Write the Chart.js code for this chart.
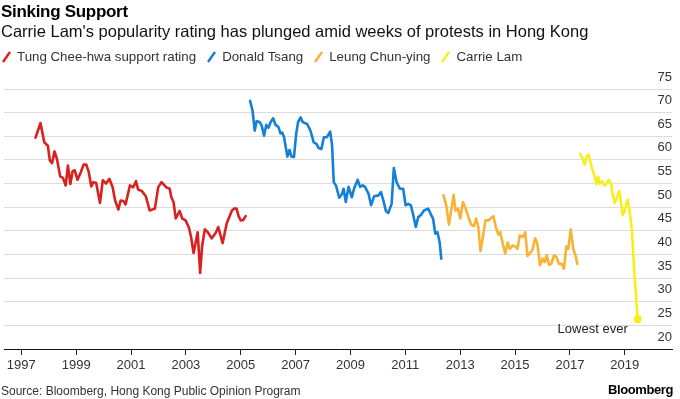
<!DOCTYPE html>
<html>
<head>
<meta charset="utf-8">
<script src="https://cdn.jsdelivr.net/npm/chart.js@4"></script>
<style>
  html, body { margin: 0; padding: 0; background: #fff; }
  body { width: 680px; height: 399px; position: relative; overflow: hidden; font-family: "Liberation Sans", Arial, sans-serif; }
  #wrap { position: absolute; left: 0; top: 0; width: 680px; height: 399px; }
  .t { position: absolute; white-space: nowrap; }
  #title { left: 1px; top: 2px; font-size: 17px; font-weight: bold; line-height: 20px; color: #000; letter-spacing: -0.3px; }
  #subtitle { left: 1px; top: 21px; font-size: 16.5px; line-height: 20px; color: #111; }
  #legend { left: 2px; top: 49px; font-size: 13.3px; line-height: 16px; color: #333; display: flex; align-items: center; }
  #legend .item { display: flex; align-items: center; margin-right: 11px; }
  #legend svg { margin-right: 6px; }
  #source { left: 1px; top: 384px; font-size: 12px; line-height: 14px; color: #333; }
  #brand { right: 7px; top: 383px; font-size: 13px; line-height: 14px; font-weight: bold; color: #000; letter-spacing: -0.4px; }
</style>
</head>
<body>
<div id="wrap"><canvas id="c" width="680" height="399"></canvas></div>
<div class="t" id="title">Sinking Support</div>
<div class="t" id="subtitle">Carrie Lam's popularity rating has plunged amid weeks of protests in Hong Kong</div>
<div class="t" id="legend"></div>
<div class="t" id="source">Source: Bloomberg, Hong Kong Public Opinion Program</div>
<div class="t" id="brand">Bloomberg</div>
<script>
// ---- data ----
const seriesNames = ["Tung Chee-hwa support rating", "Donald Tsang", "Leung Chun-ying", "Carrie Lam"];
const seriesColors = ["#d9221f", "#1581d6", "#f8b235", "#f7ef1c"];

const tungYears = [1997.52,1997.70,1997.84,1997.97,1998.04,1998.12,1998.21,1998.30,1998.42,1998.52,1998.62,1998.70,1998.79,1998.87,1998.95,1999.05,1999.17,1999.27,1999.37,1999.46,1999.55,1999.63,1999.73,1999.87,1999.97,2000.09,2000.21,2000.33,2000.42,2000.54,2000.62,2000.72,2000.80,2000.96,2001.08,2001.18,2001.26,2001.38,2001.54,2001.68,2001.87,2001.99,2002.11,2002.29,2002.41,2002.47,2002.55,2002.63,2002.77,2002.87,2002.99,2003.11,2003.19,2003.28,2003.43,2003.52,2003.59,2003.69,2003.80,2003.94,2004.08,2004.18,2004.34,2004.49,2004.68,2004.76,2004.85,2004.92,2005.00,2005.09,2005.18];
const tungValues = [64.7,67.8,63.7,63.0,59.9,59.3,61.8,60.2,56.5,56.2,54.6,58.8,54.9,57.6,57.8,55.8,57.4,59.0,59.0,57.4,54.4,55.3,55.1,50.9,55.7,55.0,56.0,54.2,51.4,49.5,51.4,51.3,50.6,54.6,54.2,55.5,53.7,53.5,52.3,49.3,49.7,54.2,55.3,54.2,53.9,52.1,51.1,47.6,49.2,47.6,47.2,45.7,43.7,40.3,44.7,36.1,41.7,45.3,44.7,43.4,44.5,45.8,42.4,46.6,49.3,49.7,49.7,48.1,47.2,47.3,48.1];

const tsangYears = [2005.34,2005.43,2005.51,2005.58,2005.69,2005.76,2005.85,2005.93,2006.01,2006.09,2006.18,2006.27,2006.37,2006.45,2006.51,2006.58,2006.70,2006.78,2006.85,2006.94,2007.02,2007.09,2007.18,2007.26,2007.42,2007.54,2007.66,2007.76,2007.84,2007.94,2008.03,2008.14,2008.26,2008.33,2008.39,2008.47,2008.59,2008.69,2008.75,2008.83,2008.93,2009.05,2009.13,2009.26,2009.35,2009.45,2009.53,2009.66,2009.75,2009.86,2010.02,2010.11,2010.20,2010.29,2010.38,2010.50,2010.58,2010.68,2010.80,2010.92,2011.01,2011.11,2011.20,2011.29,2011.38,2011.47,2011.56,2011.68,2011.83,2011.92,2012.01,2012.09,2012.17,2012.25,2012.31];
const tsangValues = [72.5,70.4,66.2,68.2,68.0,67.3,65.1,67.4,66.8,68.0,68.8,67.4,67.0,65.6,65.8,64.8,60.7,62.1,60.7,60.6,65.5,68.0,69.0,68.0,67.6,66.2,63.7,63.4,62.5,62.3,64.8,64.8,66.0,63.0,55.3,54.6,52.0,52.8,53.9,51.1,54.3,52.1,53.9,55.8,54.3,54.6,54.3,52.8,50.4,52.3,52.5,53.2,51.4,49.2,48.8,50.7,58.3,55.3,53.9,53.9,50.4,50.7,50.4,48.3,45.8,47.9,48.3,49.3,49.7,48.6,47.6,44.4,44.7,42.6,39.1];

const leungYears = [2012.39,2012.49,2012.59,2012.67,2012.76,2012.83,2012.92,2013.00,2013.10,2013.19,2013.30,2013.40,2013.50,2013.58,2013.66,2013.74,2013.82,2013.92,2014.04,2014.12,2014.21,2014.30,2014.39,2014.46,2014.55,2014.64,2014.73,2014.81,2014.91,2015.03,2015.09,2015.17,2015.29,2015.37,2015.45,2015.53,2015.63,2015.73,2015.81,2015.91,2016.00,2016.08,2016.15,2016.24,2016.32,2016.42,2016.50,2016.60,2016.70,2016.78,2016.87,2016.94,2017.03,2017.12,2017.20,2017.27];
const leungValues = [52.5,50.4,46.3,49.3,52.6,49.3,49.7,47.6,51.1,49.8,47.9,46.3,46.0,47.6,45.8,40.7,43.4,47.2,47.2,47.7,48.1,45.8,44.2,44.7,42.3,40.2,42.5,41.2,41.9,41.6,41.2,44.0,43.7,44.7,39.7,40.2,40.9,43.4,42.3,37.7,39.1,38.4,39.8,37.8,38.0,39.8,39.5,38.0,38.0,37.0,41.7,41.2,45.3,41.2,39.8,38.0];

const lamYears = [2017.38,2017.48,2017.54,2017.60,2017.68,2017.75,2017.81,2017.89,2017.96,2018.03,2018.08,2018.17,2018.25,2018.33,2018.41,2018.50,2018.55,2018.63,2018.71,2018.80,2018.86,2018.92,2018.98,2019.04,2019.10,2019.17,2019.26,2019.34,2019.47];
const lamValues = [61.3,60.0,59.0,60.7,61.1,59.5,58.1,56.7,54.9,56.5,54.9,55.5,54.6,54.9,55.8,54.9,53.0,50.9,52.1,53.4,51.1,48.3,49.0,50.4,51.6,49.3,45.1,36.7,26.3];

const xTickValues = [1997,1999,2001,2003,2005,2007,2009,2011,2013,2015,2017,2019];
const xTickLabels = ["1997","1999","2001","2003","2005","2007","2009","2011","2013","2015","2017","2019"];
const yTickValues = [20,25,30,35,40,45,50,55,60,65,70,75];
const annotationText = "Lowest ever";

// ---- legend ----
const legendEl = document.getElementById('legend');
seriesNames.forEach((name, i) => {
  const item = document.createElement('span');
  item.className = 'item';
  item.innerHTML = '<svg width="9" height="12" viewBox="0 0 9 12"><line x1="1" y1="11" x2="8" y2="1" stroke="' + seriesColors[i] + '" stroke-width="2.4"/></svg>';
  const txt = document.createElement('span');
  txt.textContent = name;
  item.appendChild(txt);
  legendEl.appendChild(item);
});

function pts(xs, ys) { return xs.map((x, i) => ({ x: x, y: ys[i] })); }
const allSeries = [pts(tungYears, tungValues), pts(tsangYears, tsangValues), pts(leungYears, leungValues), pts(lamYears, lamValues)];

const datasets = allSeries.map((d, i) => ({
  label: seriesNames[i],
  data: d,
  borderColor: seriesColors[i],
  backgroundColor: seriesColors[i],
  borderWidth: 2.6,
  tension: 0,
  borderJoinStyle: 'round',
  borderCapStyle: 'round',
  fill: false,
  pointRadius: (ctx) => (i === 3 && ctx.dataIndex === d.length - 1) ? 4 : 0,
  pointHoverRadius: 0,
  pointBorderWidth: 0
}));

const annotate = {
  id: 'annotate',
  afterDatasetsDraw(chart) {
    const meta = chart.getDatasetMeta(3);
    const p = meta.data[meta.data.length - 1];
    const ctx = chart.ctx;
    ctx.save();
    ctx.font = '13px "Liberation Sans", Arial, sans-serif';
    ctx.fillStyle = '#222';
    ctx.textAlign = 'right';
    ctx.textBaseline = 'middle';
    ctx.fillText(annotationText, p.x - 10, p.y + 10);
    ctx.restore();
  }
};

new Chart(document.getElementById('c'), {
  type: 'line',
  data: { datasets: datasets },
  options: {
    responsive: false,
    animation: false,
    events: [],
    layout: { padding: { top: 89, left: 0, right: 0, bottom: 24 } },
    plugins: { legend: { display: false }, tooltip: { enabled: false }, title: { display: false } },
    scales: {
      x: {
        type: 'linear',
        min: 1996.37,
        max: 2020.72,
        afterBuildTicks: (scale) => { scale.ticks = xTickValues.map(v => ({ value: v })); },
        afterFit: (scale) => { scale.height = 26; },
        grid: { drawOnChartArea: false, drawTicks: true, tickLength: 6, color: '#222', lineWidth: 1 },
        border: { display: true, color: '#111', width: 1 },
        ticks: {
          autoSkip: false, maxRotation: 0, padding: 3,
          color: '#333',
          font: { family: '"Liberation Sans", Arial, sans-serif', size: 13 },
          callback: (v) => { const k = xTickValues.indexOf(v); return k >= 0 ? xTickLabels[k] : ''; }
        }
      },
      y: {
        type: 'linear',
        position: 'right',
        min: 20,
        max: 75,
        afterBuildTicks: (scale) => { scale.ticks = yTickValues.map(v => ({ value: v })); },
        afterFit: (scale) => { scale.width = 8; },
        grid: { drawTicks: false, color: '#dcdcdc', lineWidth: 1 },
        border: { display: false },
        ticks: {
          mirror: true, padding: 0, labelOffset: -12,
          color: '#333',
          font: { family: '"Liberation Sans", Arial, sans-serif', size: 13 }
        }
      }
    }
  },
  plugins: [annotate]
});
</script>
</body>
</html>
